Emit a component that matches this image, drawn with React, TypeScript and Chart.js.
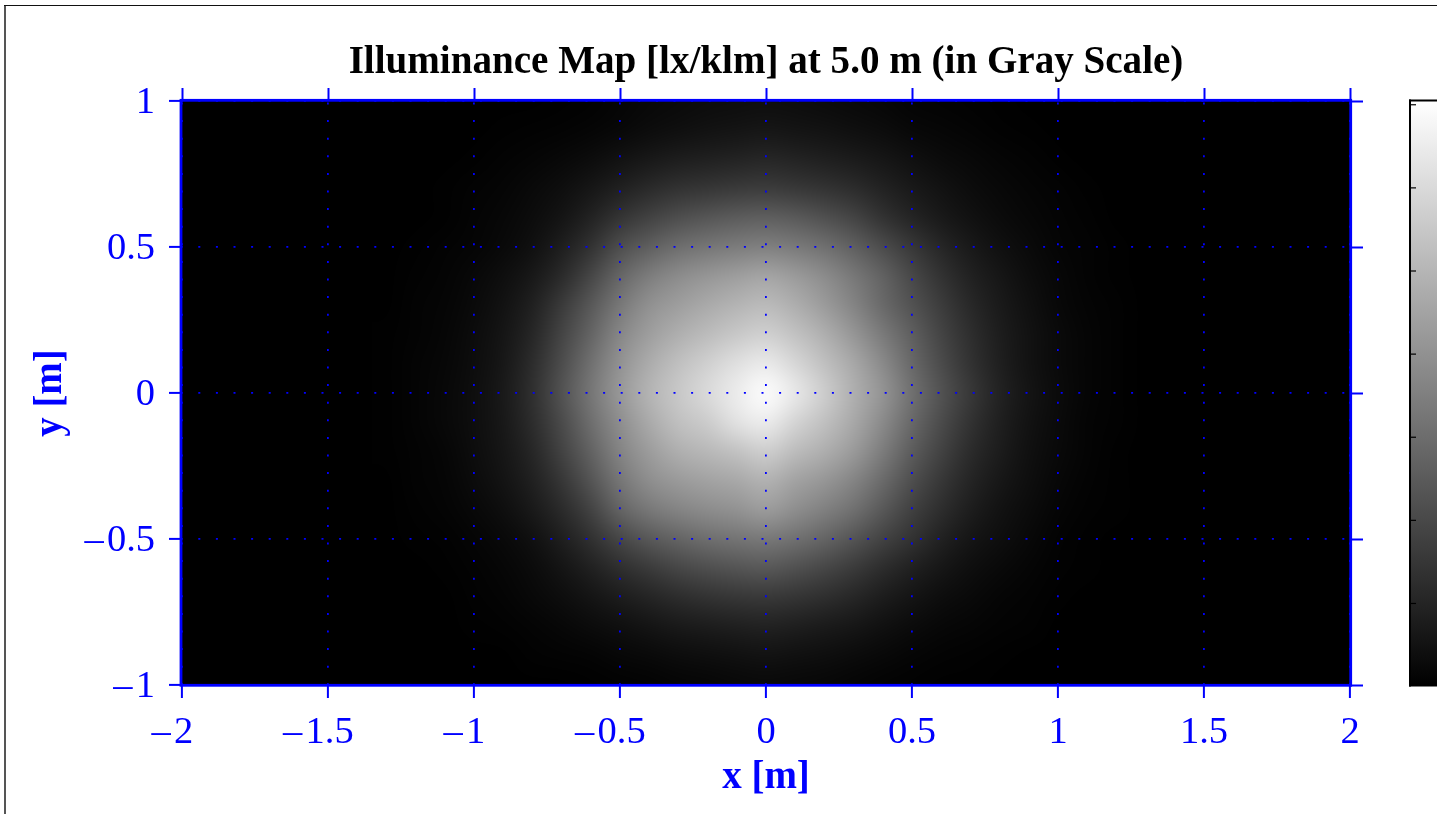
import React, { useEffect, useRef } from "react";
import { Chart, registerables } from "chart.js";

Chart.register(...registerables);

const titleText = "Illuminance Map [lx/klm] at 5.0 m (in Gray Scale)";
const xAxisTitle = "x [m]";
const yAxisTitle = "y [m]";
const xTicks = [-2, -1.5, -1, -0.5, 0, 0.5, 1, 1.5, 2];
const yTicks = [-1, -0.5, 0, 0.5, 1];
const colorbarTicks = [1, 2, 3, 4, 5, 6, 7];
const colorbarMax = 7.05;

// Grey level (0-255) on a 0.1 m lattice; everything outside is black.
const gridX = [-1.3, -1.2, -1.1, -1, -0.9, -0.8, -0.7, -0.6, -0.5, -0.4, -0.3, -0.2, -0.1, 0, 0.1, 0.2, 0.3, 0.4, 0.5, 0.6, 0.7, 0.8, 0.9, 1, 1.1, 1.2, 1.3];
const gridY = [1, 0.9, 0.8, 0.7, 0.6, 0.5, 0.4, 0.3, 0.2, 0.1, 0, -0.1, -0.2, -0.3, -0.4, -0.5, -0.6, -0.7, -0.8, -0.9, -1];
const rowP10 = [0, 0, 0, 0, 0, 0, 1, 2, 5, 8, 10, 12, 13, 14, 13, 11, 9, 7, 4, 3, 2, 1, 0, 0, 0, 0, 0];
const rowP09 = [0, 0, 0, 0, 1, 2, 3, 5, 8, 12, 15, 18, 20, 22, 20, 18, 15, 12, 8, 6, 4, 2, 1, 0, 0, 0, 0];
const rowP08 = [0, 0, 0, 1, 3, 5, 8, 12, 18, 24, 29, 32, 35, 38, 35, 31, 27, 22, 16, 11, 8, 5, 3, 1, 0, 0, 0];
const rowP07 = [0, 0, 1, 3, 5, 9, 14, 22, 32, 42, 50, 54, 58, 60, 56, 51, 44, 34, 25, 18, 12, 8, 5, 3, 1, 0, 0];
const rowP06 = [0, 0, 1, 4, 7, 12, 20, 34, 52, 66, 78, 86, 92, 95, 90, 80, 68, 50, 36, 25, 17, 11, 7, 4, 2, 0, 0];
const rowP05 = [0, 1, 3, 5, 9, 16, 30, 50, 78, 95, 110, 118, 124, 128, 122, 112, 96, 76, 56, 38, 25, 16, 10, 5, 3, 1, 0];
const rowP04 = [0, 2, 4, 8, 14, 24, 42, 70, 102, 125, 140, 150, 158, 165, 155, 140, 120, 98, 72, 50, 33, 22, 13, 7, 3, 1, 0];
const rowP03 = [0, 3, 5, 10, 18, 32, 58, 88, 120, 145, 158, 170, 180, 187, 174, 155, 132, 105, 82, 60, 40, 26, 16, 8, 4, 2, 0];
const rowP02 = [1, 3, 6, 12, 21, 38, 68, 100, 135, 158, 175, 188, 200, 208, 194, 175, 150, 122, 95, 68, 46, 29, 18, 10, 5, 2, 0];
const rowP01 = [1, 4, 7, 13, 23, 44, 76, 112, 146, 172, 192, 208, 224, 234, 215, 192, 168, 138, 104, 75, 50, 31, 18, 10, 5, 2, 0];
const rowZ00 = [1, 4, 8, 14, 25, 47, 82, 118, 152, 180, 200, 218, 236, 252, 232, 205, 175, 148, 112, 82, 56, 34, 20, 11, 5, 2, 0];
const rowM01 = [1, 4, 8, 14, 24, 44, 74, 110, 142, 170, 192, 204, 226, 236, 212, 192, 168, 138, 104, 75, 50, 31, 18, 10, 4, 2, 0];
const rowM02 = [1, 3, 6, 13, 22, 38, 66, 98, 132, 156, 175, 184, 194, 206, 188, 174, 154, 124, 92, 66, 43, 28, 16, 9, 4, 1, 0];
const rowM03 = [0, 3, 5, 11, 19, 32, 54, 84, 118, 142, 154, 162, 168, 178, 162, 150, 132, 106, 78, 55, 36, 23, 14, 7, 3, 1, 0];
const rowM04 = [0, 2, 4, 8, 14, 25, 42, 66, 100, 120, 132, 140, 146, 156, 142, 128, 112, 88, 64, 45, 29, 18, 11, 5, 2, 1, 0];
const rowM05 = [0, 1, 2, 5, 9, 16, 30, 48, 70, 88, 100, 110, 116, 120, 112, 100, 84, 66, 50, 33, 21, 14, 8, 3, 1, 0, 0];
const rowM06 = [0, 0, 1, 3, 6, 11, 20, 32, 46, 58, 70, 78, 84, 88, 80, 70, 58, 44, 32, 22, 14, 9, 5, 2, 1, 0, 0];
const rowM07 = [0, 0, 0, 2, 4, 8, 13, 20, 28, 36, 44, 50, 54, 56, 52, 46, 38, 28, 20, 13, 9, 5, 3, 1, 0, 0, 0];
const rowM08 = [0, 0, 0, 1, 2, 4, 7, 11, 15, 20, 25, 28, 31, 33, 30, 26, 22, 16, 11, 7, 5, 3, 2, 0, 0, 0, 0];
const rowM09 = [0, 0, 0, 0, 0, 2, 3, 4, 7, 9, 12, 14, 16, 18, 16, 14, 11, 8, 5, 3, 2, 1, 0, 0, 0, 0, 0];
const rowM10 = [0, 0, 0, 0, 0, 0, 0, 1, 2, 3, 5, 6, 8, 9, 8, 7, 5, 3, 2, 1, 1, 0, 0, 0, 0, 0, 0];
const gridRows = [rowP10, rowP09, rowP08, rowP07, rowP06, rowP05, rowP04, rowP03, rowP02, rowP01, rowZ00, rowM01, rowM02, rowM03, rowM04, rowM05, rowM06, rowM07, rowM08, rowM09, rowM10];

const BLUE = "#0000ff";
const SERIF = "'Liberation Serif', serif";

const fmtY = (v: number) => (v < 0 ? "\u2013\u200a" + String(-v) : String(v));
// Horizontal labels are centred on their digits; the trailing en space balances the leading dash.
const fmtX = (v: number) => (v < 0 ? "\u2013\u200a" + String(-v) + "\u2002" : String(v));

const framePlugin = {
  id: "frame",
  beforeDraw(chart: any) {
    const { ctx } = chart;
    ctx.save();
    ctx.fillStyle = "#ffffff";
    ctx.fillRect(0, 0, 1437, 814);
    ctx.fillStyle = "#555555";
    ctx.fillRect(4, 5, 2, 809);
    ctx.fillStyle = "#111111";
    ctx.fillRect(4, 5, 1433, 1);
    ctx.restore();
  },
  afterDraw(chart: any) {
    const { ctx } = chart;
    ctx.save();
    const left = 1409, right = 1437, top = 100, bottom = 686.5;
    const g = ctx.createLinearGradient(0, top + 2, 0, bottom);
    g.addColorStop(0, "#ffffff");
    g.addColorStop(1, "#000000");
    ctx.fillStyle = g;
    ctx.fillRect(left, top, right - left, bottom - top);
    ctx.fillStyle = "#000000";
    ctx.fillRect(left, top - 0.5, 2, bottom - top + 0.5);
    ctx.fillRect(left, top - 0.5, right - left, 2);
    colorbarTicks.forEach((v) => {
      const y = bottom - (v / colorbarMax) * (bottom - top - 0.5);
      ctx.fillRect(left + 2, y - 0.5, 5, 1.2);
    });
    ctx.restore();
  },
};

const heatPlugin = {
  id: "heat",
  beforeDatasetsDraw(chart: any) {
    const { ctx, scales } = chart;
    const sx = scales.x, sy = scales.y;
    const cols = gridX.length, rows = gridY.length;
    const off = document.createElement("canvas");
    off.width = cols;
    off.height = rows;
    const oc = off.getContext("2d")!;
    const img = oc.createImageData(cols, rows);
    const pts = chart.data.datasets[0].data as { x: number; y: number; v: number }[];
    pts.forEach((p, k) => {
      const i = k * 4;
      img.data[i] = img.data[i + 1] = img.data[i + 2] = p.v;
      img.data[i + 3] = 255;
    });
    oc.putImageData(img, 0, 0);
    const x0 = sx.getPixelForValue(gridX[0] - 0.05);
    const x1 = sx.getPixelForValue(gridX[cols - 1] + 0.05);
    const y0 = sy.getPixelForValue(gridY[0] + 0.05);
    const y1 = sy.getPixelForValue(gridY[rows - 1] - 0.05);
    const l = sx.getPixelForValue(-2) - 1.5, r = sx.getPixelForValue(2) + 1.5;
    const t = sy.getPixelForValue(1) - 1, b = sy.getPixelForValue(-1) + 1;
    ctx.save();
    ctx.fillStyle = "#000000";
    ctx.fillRect(l, t, r - l, b - t);
    ctx.beginPath();
    ctx.rect(l, t, r - l, b - t);
    ctx.clip();
    ctx.imageSmoothingEnabled = true;
    ctx.imageSmoothingQuality = "high";
    ctx.drawImage(off, x0, y0, x1 - x0, y1 - y0);
    ctx.restore();
  },
  afterDatasetsDraw(chart: any) {
    const { ctx, scales } = chart;
    const l = scales.x.getPixelForValue(-2) - 1, r = scales.x.getPixelForValue(2) + 0.7;
    const t = scales.y.getPixelForValue(1) - 0.7, b = scales.y.getPixelForValue(-1) + 0.3;
    ctx.save();
    ctx.strokeStyle = BLUE;
    ctx.lineWidth = 2.8;
    ctx.strokeRect(l, t, r - l, b - t);
    ctx.restore();
  },
};

export default function App() {
  const ref = useRef<HTMLCanvasElement>(null);
  useEffect(() => {
    document.body.style.margin = "0";
    document.body.style.background = "#fff";
    const points: { x: number; y: number; v: number }[] = [];
    gridY.forEach((y, r) => gridX.forEach((x, c) => points.push({ x, y, v: gridRows[r][c] })));
    const tickFont = { family: SERIF, size: 38.5 };
    const axisTitleFont = { family: SERIF, size: 39, weight: "bold" as const, lineHeight: 1.2 };
    const chart = new Chart(ref.current!, {
      type: "scatter",
      data: { datasets: [{ label: "Illuminance", data: points as any, pointRadius: 0, showLine: false }] },
      plugins: [framePlugin, heatPlugin],
      options: {
        animation: false,
        responsive: false,
        devicePixelRatio: 1,
        layout: { padding: 0 },
        plugins: {
          legend: { display: false },
          tooltip: { enabled: false },
          title: {
            display: true,
            text: titleText,
            fullSize: false,
            color: "#000000",
            font: { family: SERIF, size: 39.1, weight: "bold", lineHeight: 1.2 },
            padding: { top: 39, bottom: 3.1 },
          },
        },
        scales: {
          x: {
            type: "linear",
            position: "bottom",
            min: -2,
            max: 2,
            afterBuildTicks: (s: any) => { s.ticks = xTicks.map((value) => ({ value })); },
            afterFit: (s: any) => { s.height = 129; },
            ticks: { color: BLUE, font: tickFont, padding: 12, maxRotation: 0, autoSkip: false, callback: (v: any) => fmtX(Number(v)) },
            grid: { color: BLUE, lineWidth: 1.8, tickColor: BLUE, tickWidth: 2, tickLength: 13, z: 1 },
            border: { display: false, dash: [2, 15.6], dashOffset: -1.5 },
            title: { display: true, text: xAxisTitle, color: BLUE, font: axisTitleFont, padding: { top: 0, bottom: 13 } },
          },
          x2: {
            type: "linear",
            position: "top",
            min: -2,
            max: 2,
            afterBuildTicks: (s: any) => { s.ticks = xTicks.map((value) => ({ value })); },
            afterFit: (s: any) => { s.height = 12; },
            ticks: { display: false },
            grid: { drawOnChartArea: false, tickColor: BLUE, tickWidth: 2, tickLength: 13, z: 1 },
            border: { display: false },
          },
          y: {
            type: "linear",
            position: "left",
            min: -1,
            max: 1,
            afterBuildTicks: (s: any) => { s.ticks = yTicks.map((value) => ({ value })); },
            afterFit: (s: any) => { s.width = 182; },
            ticks: { color: BLUE, font: tickFont, padding: 14, labelOffset: 2, autoSkip: false, callback: (v: any) => fmtY(Number(v)) },
            grid: { color: BLUE, lineWidth: 1.8, tickColor: BLUE, tickWidth: 2, tickLength: 13, z: 1 },
            border: { display: false, dash: [2, 15.6], dashOffset: 1.3 },
            title: { display: true, text: yAxisTitle, color: BLUE, font: axisTitleFont, padding: { top: 28, bottom: 0 } },
          },
          y2: {
            type: "linear",
            position: "right",
            min: -1,
            max: 1,
            afterBuildTicks: (s: any) => { s.ticks = yTicks.map((value) => ({ value })); },
            afterFit: (s: any) => { s.width = 87; },
            ticks: { display: false },
            grid: { drawOnChartArea: false, tickColor: BLUE, tickWidth: 2, tickLength: 13, z: 1 },
            border: { display: false },
          },
        },
      } as any,
    });
    return () => chart.destroy();
  }, []);
  return <canvas ref={ref} width={1437} height={814} style={{ position: "fixed", left: 0, top: 0, display: "block" }} />;
}
